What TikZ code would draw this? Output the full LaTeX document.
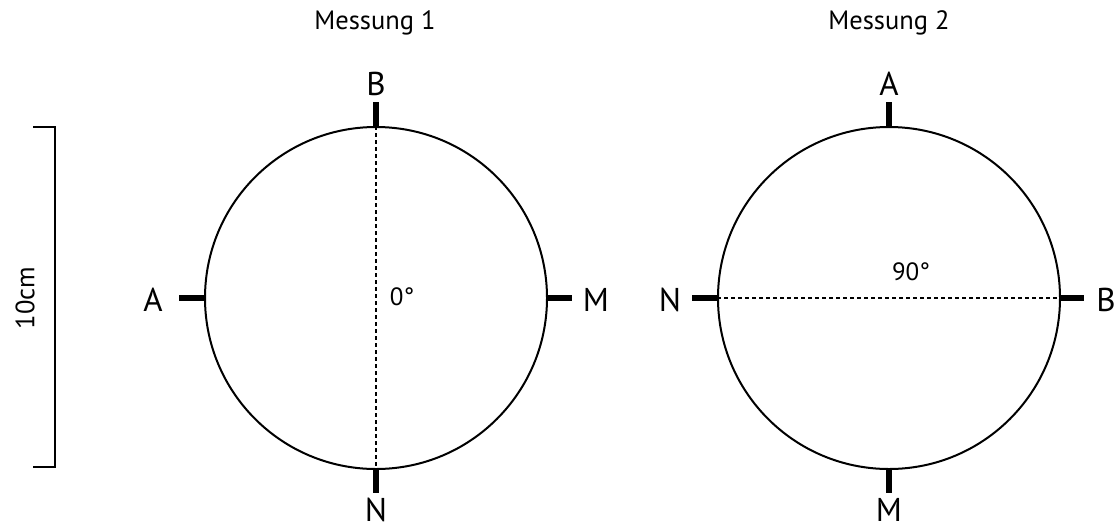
\documentclass[tikz,border=0pt]{standalone}
\usepackage{fontspec}
\setmainfont{PT Sans}
\begin{document}
\begin{tikzpicture}[x=1pt,y=-1pt,
  ring/.style={draw,line width=2pt},
  tickmark/.style={line width=6pt},
  dashline/.style={line width=1.4pt,dash pattern=on 4pt off 3pt},
  lbl/.style={font=\fontsize{33}{34}\selectfont,inner sep=0pt},
  ttl/.style={font=\fontsize{26.5}{28}\selectfont,inner sep=0pt},
  ang/.style={font=\fontsize{25}{26}\selectfont,inner sep=0pt}]
\useasboundingbox (0,0) rectangle (1119,531);
% scale bar
\coordinate (s1) at (33,127);
\coordinate (s2) at (55,127);
\coordinate (s3) at (55,467);
\coordinate (s4) at (33,467);
\draw[line width=2pt] (s1) -- (s2) -- (s3) -- (s4);
\node[ttl,rotate=90] (scale) at (25,298) {10cm};
% titles
\node[ttl] (t1) at (375,23) {Messung 1};
\node[ttl] (t2) at (889,23) {Messung 2};
% circle 1
\coordinate (c1) at (376,298);
\node[ring,circle,minimum size=342pt,inner sep=0pt] (k1) at (c1) {};
\coordinate (k1t) at (376,102);
\coordinate (k1b) at (376,493);
\coordinate (k1l) at (179,298);
\coordinate (k1r) at (572,298);
\draw[tickmark] (k1.north) -- (k1t);
\draw[tickmark] (k1.south) -- (k1b);
\draw[tickmark] (k1.west) -- (k1l);
\draw[tickmark] (k1.east) -- (k1r);
\draw[dashline] (k1.north) -- (k1.south);
\node[lbl] (b1) at (376,84) {B};
\node[lbl] (n1) at (376,510) {N};
\node[lbl] (a1) at (153,300) {A};
\node[lbl] (m1) at (596,300) {M};
\node[ang] (deg1) at (402,297) {0°};
% circle 2
\coordinate (c2) at (889,298);
\node[ring,circle,minimum size=342pt,inner sep=0pt] (k2) at (c2) {};
\coordinate (k2t) at (889,102);
\coordinate (k2b) at (889,493);
\coordinate (k2l) at (692,298);
\coordinate (k2r) at (1084,298);
\draw[tickmark] (k2.north) -- (k2t);
\draw[tickmark] (k2.south) -- (k2b);
\draw[tickmark] (k2.west) -- (k2l);
\draw[tickmark] (k2.east) -- (k2r);
\draw[dashline] (k2.west) -- (k2.east);
\node[lbl] (a2) at (889,84) {A};
\node[lbl] (m2) at (889,510) {M};
\node[lbl] (n2) at (670,300) {N};
\node[lbl] (b2) at (1106,300) {B};
\node[ang] (deg2) at (911,272) {90°};
\end{tikzpicture}
\end{document}
